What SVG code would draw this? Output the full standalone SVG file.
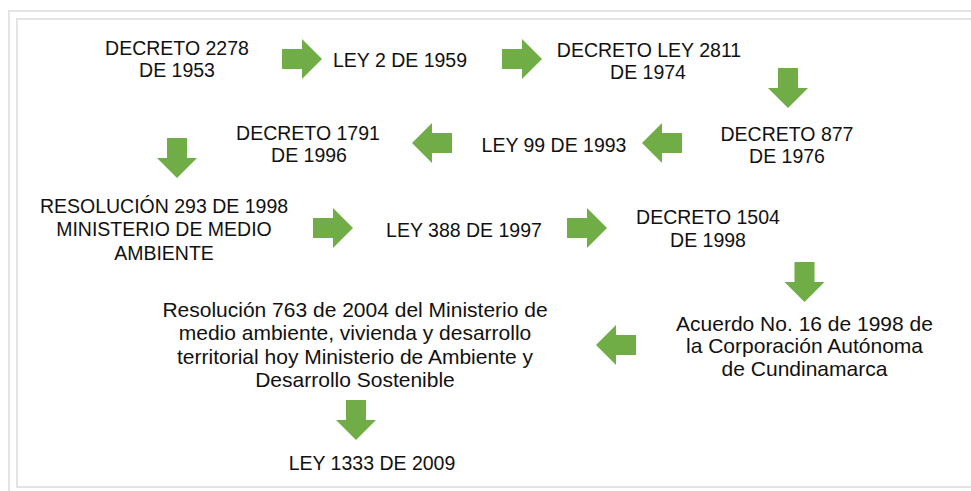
<svg xmlns="http://www.w3.org/2000/svg" width="971" height="491" viewBox="0 0 971 491">
<defs>
<style>
text{font-family:"Liberation Sans",Arial,sans-serif;font-size:19.5px;fill:#111;text-anchor:middle}
.lc{font-size:21px}
.ar{fill:#70ad47}
.frame{fill:none;stroke:#e3e3e3;stroke-width:2}
</style>
<path id="ar" class="ar" d="M-20,-10 H0 V-20 L20,0 L0,20 V10 H-20 Z"/>
</defs>
<rect width="971" height="491" fill="#fff"/>
<rect class="frame" x="9" y="11" width="980" height="500"/>
<rect class="frame" x="17" y="19" width="970" height="468"/>
<g id="connectors">
<use href="#ar" transform="translate(302,59)"/>
<use href="#ar" transform="translate(522,59)"/>
<use href="#ar" transform="translate(788,88) rotate(90)"/>
<use href="#ar" transform="translate(662,143) rotate(180)"/>
<use href="#ar" transform="translate(432,143) rotate(180)"/>
<use href="#ar" transform="translate(177,158) rotate(90)"/>
<use href="#ar" transform="translate(333,228)"/>
<use href="#ar" transform="translate(587,228)"/>
<use href="#ar" transform="translate(804.5,282) rotate(90)"/>
<use href="#ar" transform="translate(616,345) rotate(180)"/>
<use href="#ar" transform="translate(356,420) rotate(90)"/>
</g>
<g id="n1"><text x="177" y="55">DECRETO 2278</text><text x="177" y="77">DE 1953</text></g>
<g id="n2"><text x="400" y="67">LEY 2 DE 1959</text></g>
<g id="n3"><text x="649" y="57">DECRETO LEY 2811</text><text x="648" y="79">DE 1974</text></g>
<g id="n4"><text x="787" y="141">DECRETO 877</text><text x="787" y="163">DE 1976</text></g>
<g id="n5"><text x="554" y="152">LEY 99 DE 1993</text></g>
<g id="n6"><text x="308" y="140">DECRETO 1791</text><text x="309" y="162">DE 1996</text></g>
<g id="n7"><text x="164" y="213">RESOLUCIÓN 293 DE 1998</text><text x="164" y="236">MINISTERIO DE MEDIO</text><text x="164" y="260">AMBIENTE</text></g>
<g id="n8"><text x="464" y="237">LEY 388 DE 1997</text></g>
<g id="n9"><text x="708" y="224">DECRETO 1504</text><text x="708" y="247">DE 1998</text></g>
<g id="n10" class="lc"><text class="lc" x="804.5" y="331">Acuerdo No. 16 de 1998 de</text><text class="lc" x="804.5" y="353">la Corporación Autónoma</text><text class="lc" x="804.5" y="376">de Cundinamarca</text></g>
<g id="n11"><text class="lc" x="355" y="317">Resolución 763 de 2004 del Ministerio de</text><text class="lc" x="355" y="340">medio ambiente, vivienda y desarrollo</text><text class="lc" x="355" y="364">territorial hoy Ministerio de Ambiente y</text><text class="lc" x="355" y="387">Desarrollo Sostenible</text></g>
<g id="n12"><text x="372" y="470">LEY 1333 DE 2009</text></g>
</svg>
